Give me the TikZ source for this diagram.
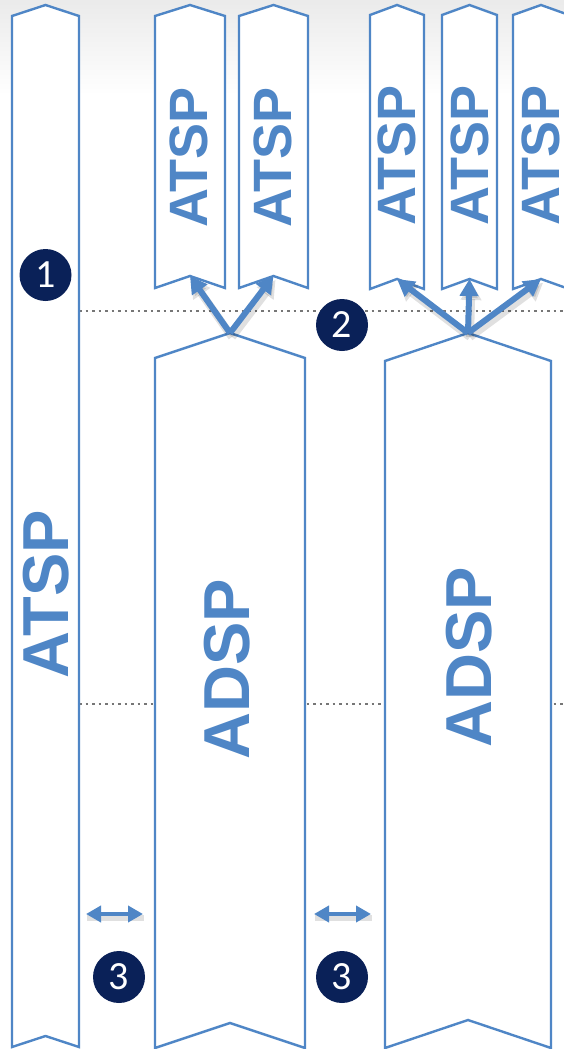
\documentclass[tikz,border=0pt]{standalone}
\usepackage{fontspec}
\setmainfont{Liberation Sans}
\newfontfamily\numfont{Carlito}
\usetikzlibrary{arrows.meta}
\definecolor{barblue}{RGB}{79,134,198}
\definecolor{navy}{RGB}{10,33,88}
\definecolor{dotgray}{RGB}{118,118,118}

\begin{document}
\begin{tikzpicture}[x=1pt,y=-1pt,
  bar/.style={draw=barblue,line width=2.4pt,fill=white,line join=miter},
  barlabel/.style={text=barblue,rotate=90,inner sep=0pt,
    font=\bfseries\fontsize{#1}{#1}\selectfont},
  stepnum/.style={circle,fill=navy,minimum size=52pt,inner sep=0pt,text=white,
    font=\numfont\fontsize{40}{40}\selectfont},
  dotline/.style={draw=dotgray,line width=2.8pt,dash pattern=on 2.8pt off 3.7pt},
  arr/.style={draw=barblue,line width=6pt,-{Triangle[length=17pt,width=18pt]}},
  arrshadow/.style={draw=black,opacity=0.12,line width=8pt,-{Triangle[length=17pt,width=20pt]}},
  gaparr/.style={draw=barblue,line width=4.6pt,
    {Triangle[length=15pt,width=16pt]}-{Triangle[length=15pt,width=16pt]}},
]
\useasboundingbox (0,0) rectangle (564,1049);
\clip (0,0) rectangle (564,1049);

% light grey fade along the top edge
\fill[top color=black!8,bottom color=white] (0,0) rectangle (564,95);
\fill[white] (0,95) rectangle (564,1049);

% dotted phase separators
\draw[dotline] (79,311) -- (564,311);
\draw[dotline] (79,704) -- (564,704);

% tall ATSP column
\draw[bar] (12,16) -- (45.5,5) -- (79,16) -- (79,1047) -- (45.5,1036) -- (12,1047) -- cycle;
\node[barlabel=65] (tallatsp) at (46.5,594) {ATSP};

% first ADSP column and its two ATSP branches
\draw[bar] (155,358) -- (230,333) coordinate (adspA) -- (305,358) -- (305,1048)
  -- (230,1023) -- (155,1048) -- cycle;
\node[barlabel=65] (adsp1) at (227,669) {ADSP};
\draw[bar] (155,16) -- (190,5) -- (225,16) -- (225,288) -- (190,276) coordinate (atspA)
  -- (155,288) -- cycle;
\draw[bar] (239,16) -- (273.5,5) -- (308,16) -- (308,288) -- (273.5,276) coordinate (atspB)
  -- (239,288) -- cycle;
\node[barlabel=54] (atsp1) at (189,157) {ATSP};
\node[barlabel=54] (atsp2) at (273,157) {ATSP};

% second ADSP column and its three ATSP branches
\draw[bar] (385,361) -- (468,333) coordinate (adspB) -- (551,361) -- (551,1048)
  -- (468,1020) -- (385,1048) -- cycle;
\node[barlabel=65] (adsp2) at (469,657) {ADSP};
\draw[bar] (370,15) -- (397,5) -- (424,15) -- (424,289) -- (397,279) coordinate (atspC)
  -- (370,289) -- cycle;
\draw[bar] (442,15) -- (469.5,5) -- (497,15) -- (497,289) -- (469.5,279) coordinate (atspD)
  -- (442,289) -- cycle;
\draw[bar] (513,15) -- (541,5) -- (569,15) -- (569,289) -- (541,279) coordinate (atspE)
  -- (513,289) -- cycle;
\node[barlabel=54] (atsp3) at (397,155) {ATSP};
\node[barlabel=54] (atsp4) at (469.5,155) {ATSP};
\node[barlabel=54] (atsp5) at (541,155) {ATSP};

% branching arrows (soft shadow first)
\foreach \s/\t in {adspA/atspA,adspA/atspB,adspB/atspC,adspB/atspD,adspB/atspE}{
  \draw[arrshadow] ([shift={(2,4)}]\s) -- ([shift={(2,4)}]\t);
}
\foreach \s/\t in {adspA/atspA,adspA/atspB,adspB/atspC,adspB/atspD,adspB/atspE}{
  \draw[arr] (\s) -- (\t);
}

% gap arrows between columns
\coordinate (gapAl) at (86,914);
\coordinate (gapAr) at (143,914);
\coordinate (gapBl) at (314,914);
\coordinate (gapBr) at (371,914);
\draw[draw=black,opacity=0.12,line width=6pt] ([shift={(1,4)}]gapAl) -- ([shift={(1,4)}]gapAr);
\draw[draw=black,opacity=0.12,line width=6pt] ([shift={(1,4)}]gapBl) -- ([shift={(1,4)}]gapBr);
\draw[gaparr] (gapAl) -- (gapAr);
\draw[gaparr] (gapBl) -- (gapBr);

% numbered markers
\node[stepnum] (s1) at (45.5,275) {1};
\node[stepnum] (s2) at (342,325) {2};
\node[stepnum] (s3a) at (119,977) {3};
\node[stepnum] (s3b) at (342,977) {3};
\end{tikzpicture}
\end{document}
